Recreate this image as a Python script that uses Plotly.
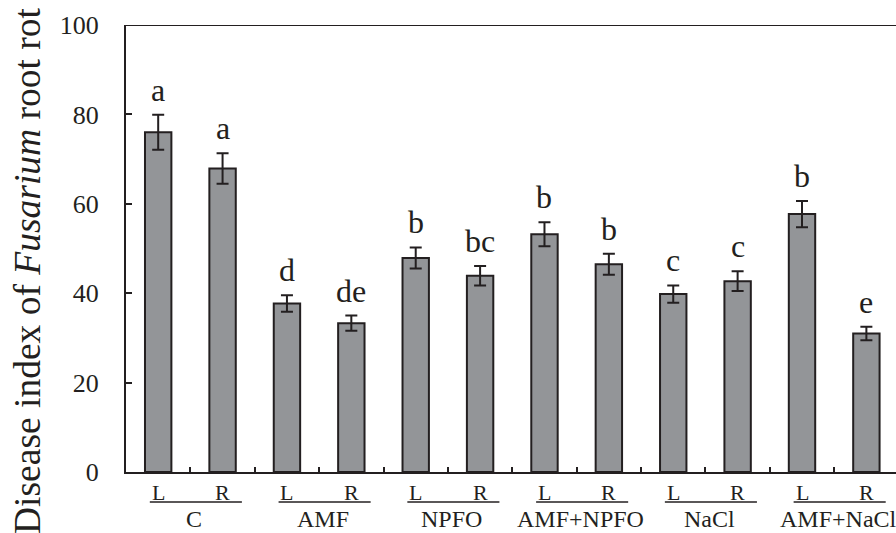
import plotly.graph_objects as go

groups = ["C", "AMF", "NPFO", "AMF+NPFO", "NaCl", "AMF+NaCl"]
parts = ["L", "R"]
values = [76.0, 67.9, 37.7, 33.3, 47.9, 43.9, 53.2, 46.5, 39.8, 42.7, 57.7, 31.0]
errors = [3.9, 3.4, 1.85, 1.7, 2.35, 2.2, 2.7, 2.35, 1.95, 2.2, 2.95, 1.5]
letters = ["a", "a", "d", "de", "b", "bc", "b", "b", "c", "c", "b", "e"]
yticks = [0, 20, 40, 60, 80, 100]

W, H = 896, 533
ML, MR, MT, MB = 126, 0, 25, 61
PH = H - MT - MB
PW = W - ML - MR
DARK = "#231f20"
GRAY = "#939598"
FONT = "Liberation Serif"


def py(p):
    # pixel y -> paper y
    return (H - MB - p) / PH


def px(p):
    return (p - ML) / PW


xs = list(range(len(values)))
fig = go.Figure()
fig.add_bar(
    x=xs, y=values, width=0.41,
    marker=dict(color=GRAY, line=dict(color=DARK, width=2)),
    error_y=dict(type="data", array=errors, visible=True, thickness=2, width=6, color=DARK),
    showlegend=False,
)

ann = []
for i, (v, e, t) in enumerate(zip(values, errors, letters)):
    ann.append(dict(x=i, y=v + e, xref="x", yref="y", text=t, showarrow=False,
                    yanchor="bottom", yshift=5, font=dict(family=FONT, size=32, color=DARK)))
    ann.append(dict(x=i, y=py(492.5), xref="x", yref="paper", text=parts[i % 2], showarrow=False,
                    yanchor="middle", font=dict(family=FONT, size=22, color=DARK)))

shapes = []
for g, name in enumerate(groups):
    a, b = 2 * g, 2 * g + 1
    shapes.append(dict(type="line", xref="x", yref="paper", x0=a - 0.13, x1=b + 0.3,
                       y0=py(502), y1=py(502), line=dict(color=DARK, width=1.5)))
    ann.append(dict(x=(a + b) / 2 + 0.06, y=py(519), xref="x", yref="paper", text=name,
                    showarrow=False, yanchor="middle", font=dict(family=FONT, size=24, color=DARK)))

# top border
shapes.append(dict(type="line", xref="paper", yref="y", x0=0, x1=1, y0=100, y1=100,
                   line=dict(color=DARK, width=2)))

ann.append(dict(x=px(27), y=py(271), xref="paper", yref="paper",
                text="Disease index of <i>Fusarium</i> root rot", textangle=-90, showarrow=False,
                xanchor="center", yanchor="middle", font=dict(family=FONT, size=37.5, color=DARK)))

fig.update_layout(
    width=W, height=H,
    margin=dict(l=ML, r=MR, t=MT, b=MB, pad=0),
    plot_bgcolor="white", paper_bgcolor="white",
    annotations=ann, shapes=shapes,
    font=dict(family=FONT, color=DARK),
)
fig.update_xaxes(range=[-0.5, 11.46], tickvals=[i + 0.5 for i in range(11)],
                 ticktext=[""] * 11, ticks="inside", ticklen=5, tickwidth=2, tickcolor=DARK,
                 showline=True, linewidth=2, linecolor=DARK, showgrid=False, zeroline=False)
fig.update_yaxes(range=[0, 100], tickvals=yticks, ticks="inside", ticklen=6, tickwidth=2,
                 tickcolor=DARK, showline=True, linewidth=2, linecolor=DARK, showgrid=False,
                 zeroline=False, ticklabelstandoff=20,
                 tickfont=dict(family=FONT, size=26, color=DARK))

fig.write_html("out.html")
